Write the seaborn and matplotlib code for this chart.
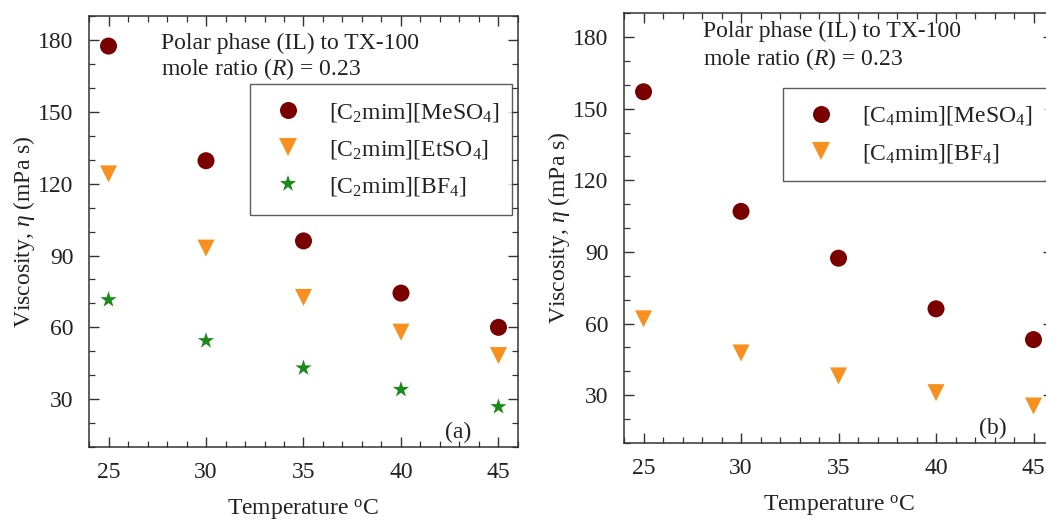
import numpy as np
import pandas as pd
import matplotlib
matplotlib.use('Agg')
import matplotlib.pyplot as plt
from matplotlib.ticker import MultipleLocator
import seaborn as sns

# данные
temps = [25, 30, 35, 40, 45]

# панель (a): [C2mim]-ионные жидкости
c2_meso4 = [177.5, 129.6, 96.1, 74.3, 60.0]
c2_etso4 = [124.1, 93.1, 72.5, 58.0, 48.2]
c2_bf4 = [71.5, 54.4, 43.0, 34.0, 26.8]

# панель (b): [C4mim]-ионные жидкости
c4_meso4 = [157.1, 107.0, 87.4, 66.2, 53.3]
c4_bf4 = [62.0, 47.7, 38.1, 31.1, 25.5]

labels_a = [r'[C$_2$mim][MeSO$_4$]', r'[C$_2$mim][EtSO$_4$]', r'[C$_2$mim][BF$_4$]']
labels_b = [r'[C$_4$mim][MeSO$_4$]', r'[C$_4$mim][BF$_4$]']

sns.set_style('ticks')
plt.rcParams['font.family'] = ['Liberation Serif', 'DejaVu Serif']
plt.rcParams['mathtext.fontset'] = 'custom'
plt.rcParams['mathtext.rm'] = 'Liberation Serif'
plt.rcParams['mathtext.it'] = 'Liberation Serif:italic'
plt.rcParams['axes.edgecolor'] = '#333333'
plt.rcParams['axes.linewidth'] = 1.1

red = '#7a0000'
orange = '#f7901e'
green = '#1a8a1a'
ink = '#222222'


def long_table(series, labels):
    rows = []
    for vals, lab in zip(series, labels):
        for t, v in zip(temps, vals):
            rows.append({'T': t, 'eta': v, 'IL': lab})
    return pd.DataFrame(rows)


df_a = long_table([c2_meso4, c2_etso4, c2_bf4], labels_a)
df_b = long_table([c4_meso4, c4_bf4], labels_b)

fig = plt.figure(figsize=(10.46, 5.21), dpi=100)
ax_a = fig.add_axes([0.0851, 0.142, 0.4101, 0.827])
ax_b = fig.add_axes([0.5966, 0.1497, 0.4101, 0.825])

sns.scatterplot(data=df_a, x='T', y='eta', hue='IL', style='IL', ax=ax_a,
                palette={labels_a[0]: red, labels_a[1]: orange, labels_a[2]: green},
                markers={labels_a[0]: 'o', labels_a[1]: 'v', labels_a[2]: '*'},
                s=150, linewidth=0, legend=True)
sns.scatterplot(data=df_b, x='T', y='eta', hue='IL', style='IL', ax=ax_b,
                palette={labels_b[0]: red, labels_b[1]: orange},
                markers={labels_b[0]: 'o', labels_b[1]: 'v'},
                s=150, linewidth=0, legend=True)

# (ось, метка панели, позиция текста, межстрочный, рамка легенды)
setup = [
    (ax_a, '(a)', (0.168, 0.962), 1.1, (0.375, 0.0, 0.611, 0.842)),
    (ax_b, '(b)', (0.185, 0.982), 1.22, (0.371, 0.0, 0.70, 0.826)),
]

for ax, tag, txt_xy, lsp, leg_box in setup:
    ax.set_xlim(24, 46)
    ax.set_ylim(10, 190)
    ax.xaxis.set_major_locator(MultipleLocator(5))
    ax.xaxis.set_minor_locator(MultipleLocator(1))
    ax.yaxis.set_major_locator(MultipleLocator(30))
    ax.yaxis.set_minor_locator(MultipleLocator(10))
    ax.tick_params(which='both', direction='in', top=True, right=True,
                   colors='#333333', labelcolor=ink, labelsize=17)
    ax.tick_params(which='major', length=7, width=1.0, pad=11)
    ax.tick_params(which='minor', length=4, width=0.9)
    ax.set_xlabel(r'Temperature $^{\rm o}$C', fontsize=17, labelpad=10, color=ink)
    ax.set_ylabel(r'Viscosity, $\eta$ (mPa s)', fontsize=17, labelpad=1, color=ink)
    ax.text(txt_xy[0], txt_xy[1], 'Polar phase (IL) to TX-100\nmole ratio ($R$) = 0.23',
            transform=ax.transAxes, ha='left', va='top', fontsize=17,
            linespacing=lsp, color=ink)
    ax.text(0.86, 0.01, tag, transform=ax.transAxes, ha='center', va='bottom',
            fontsize=17, color=ink)
    leg = ax.legend(loc='upper left', bbox_to_anchor=leg_box, mode='expand',
                    frameon=True, fancybox=False, fontsize=17,
                    handlelength=1.8, handletextpad=0.85,
                    borderpad=0.7, labelspacing=0.6, markerscale=1.0,
                    borderaxespad=0)
    leg.get_frame().set_edgecolor('#333333')
    leg.get_frame().set_linewidth(1.0)
    for t in leg.get_texts():
        t.set_color(ink)

plt.savefig('out.png', dpi=100)
